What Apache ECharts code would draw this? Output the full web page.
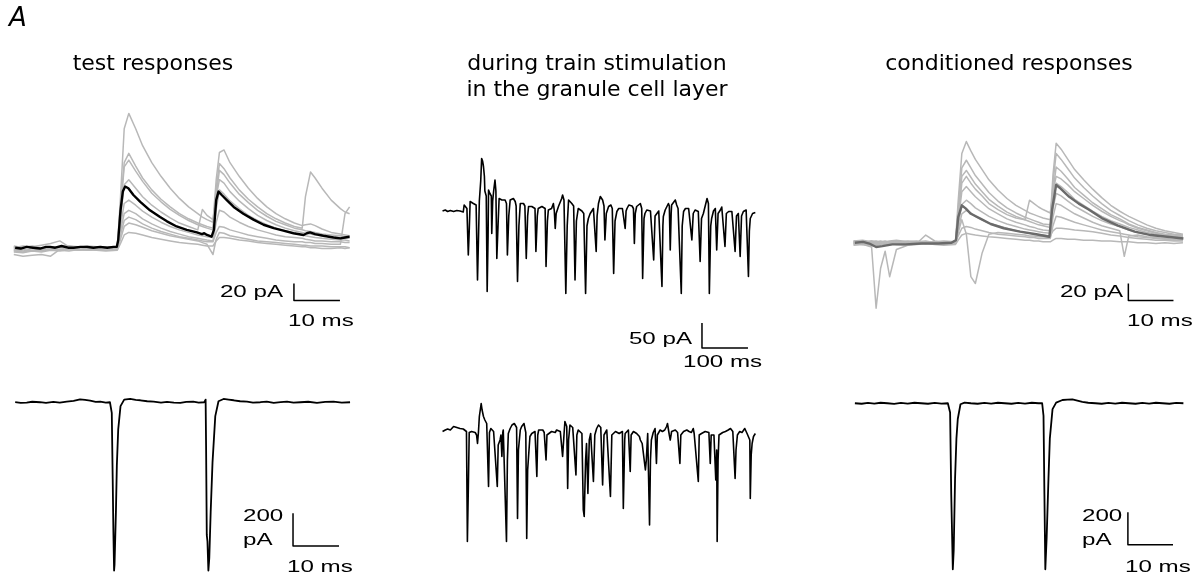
<!DOCTYPE html>
<html>
<head>
<meta charset="utf-8">
<script src="https://cdn.jsdelivr.net/npm/echarts@6/dist/echarts.min.js"></script>
<style>html,body{margin:0;padding:0;background:#fff}#c{width:1201px;height:582px}</style>
</head>
<body>
<div id="c"></div>
<script>
// ---------- DATA (ms, pA) ----------
const panelTitles = ["test responses", "during train stimulation", "in the granule cell layer", "conditioned responses"];
const scaleLabels = {topPA: "20 pA", topMS: "10 ms", trainPA: "50 pA", trainMS: "100 ms", stimPA1: "200", stimPA2: "pA", stimMS: "10 ms"};

// test responses: shared sample times (ms) for the grey single sweeps
const testTime = [3,5,7,9,11,13,15,17,19,21,23,25.5,26.2,27,28,29.5,31,33,35,37,39,41,43,44,45,46.3,47,47.7,48.7,50,52,54,56,58,60,62,64,65.7,66.4,67.5,68.5,70,72,74,75,76];
const testSweep1 = [-2,-4,-1,-3,0,-2,-1,-3,-1,-2,-1,-1,60,140,158,140,120,100,84,70,58,48,40,36,33,30,80,112,115,100,84,70,58,48,40,34,29,26,27,28,26,22,18,16,15,14];
const testSweep2 = [1,0,2,-1,1,0,2,1,0,1,0,0,50,100,111,96,82,68,57,48,40,34,29,27,25,23,70,99,93,82,68,57,48,40,34,29,25,23,60,89,82,70,56,46,42,40];
const testSweep3 = [-1,1,0,-2,0,1,-1,0,1,-1,0,0,45,95,103,90,78,64,54,45,38,32,27,25,23,21,62,91,86,76,63,53,44,37,31,27,23,21,20,19,18,16,15,14,13,13];
const testSweep4 = [0,2,1,0,-1,1,2,0,-1,1,0,1,35,74,80,70,60,50,42,35,29,25,21,45,38,33,60,80,76,66,55,46,38,32,27,23,20,18,17,16,15,14,13,12,11,11];
const testSweep5 = [-4,-5,-3,-4,-2,-3,-4,-2,-3,-2,-3,-2,25,52,56,50,43,36,30,25,21,18,15,14,13,12,45,68,63,55,46,38,32,27,23,20,17,15,14,13,12,11,10,9,9,8];
const testSweep6 = [-8,-10,-9,-8,-10,-2,0,1,-1,0,1,0,20,40,44,40,34,28,23,19,16,13,11,10,9,8,30,44,42,36,30,25,21,18,15,13,12,11,10,9,8,8,7,7,6,6];
const testSweep7 = [2,0,1,3,5,8,1,0,2,1,0,1,15,32,36,33,28,23,19,16,13,11,9,8,7,7,18,25,24,21,18,15,13,11,9,8,7,7,6,6,5,5,4,4,40,48];
const testSweep8 = [-3,-2,-4,-3,-2,-3,-1,-2,-3,-2,-3,-2,10,25,29,27,24,20,17,14,12,10,8,6,4,-8,10,18,17,14,12,10,8,7,6,5,4,3,3,2,2,2,1,1,1,0];
const testSweep9 = [-5,-6,-4,-5,-3,-4,-2,-3,-2,-3,-4,-3,5,15,18,17,15,12,10,8,6,5,4,3,2,2,8,12,12,11,9,8,6,5,4,3,2,1,1,0,0,-1,-1,0,-1,0];
const testMean = [[3.3,0],[4.5,-1],[5.8,1],[7.2,0],[8.7,-1],[10,1],[10.9,1],[12,0],[13.4,2],[14.8,0],[16,0],[17.5,1],[18.9,1],[20.3,0],[21.8,1],[23.3,0],[24.7,1],[25.4,1],[25.7,9],[26.2,44],[26.7,66],[27.2,72],[27.9,70],[29,62],[30.5,54],[32.6,44],[34.8,36],[36.3,31],[38.4,25],[40.6,21],[42.8,18],[43.9,16],[44.4,17],[45,15],[46,13],[46.5,21],[47,56],[47.5,66],[48.2,62],[49.3,56],[50.8,48],[52.9,40],[55.1,33],[57.3,27],[59.5,23],[61.6,20],[63.8,17],[66,15],[66.7,17],[67.4,18],[68.5,16],[70.3,14],[72.5,12],[74,11],[75,12],[76,13]];

// conditioned responses
const condTime = [3,5,7,8,9,10,11,12.5,15,17,19,21,23,25.6,26.2,27,28,29,30,31.5,33,35,37,39,41,42,43,44,45,46.6,47.2,47.9,49,50.5,52,54,56,58,60,62,63,64,66,68,70,72,74,76];
const condSweep1 = [1,-1,2,0,1,-1,0,2,1,0,-1,1,0,1,50,105,119,108,98,86,74,62,52,44,38,35,33,31,29,27,80,117,110,98,86,74,63,53,44,37,34,31,26,21,17,14,12,10];
const condSweep2 = [-1,0,-2,-1,0,1,-1,0,-1,1,0,-1,0,0,40,88,97,88,79,69,59,49,41,35,30,28,26,24,22,21,70,105,98,87,76,65,55,46,38,32,29,26,21,17,14,12,10,9];
const condSweep3 = [2,1,0,1,2,0,1,-1,0,1,2,0,1,0,35,78,85,77,69,60,51,43,36,31,27,25,23,21,20,18,60,89,84,75,65,56,47,40,33,28,25,22,18,15,12,10,9,8];
const condSweep4 = [0,1,-1,0,1,2,0,1,-1,0,1,0,-1,0,30,70,78,70,63,55,46,39,33,29,27,50,46,42,39,35,60,78,75,68,60,52,44,37,31,26,24,21,17,14,11,9,8,7];
const condSweep5 = [-2,-1,-3,-2,-1,-2,0,-1,-2,-1,0,-1,-2,-1,25,60,66,60,54,47,40,34,28,24,21,19,18,16,15,14,48,70,66,59,51,44,37,31,26,22,20,18,15,12,10,8,7,6];
const condSweep6 = [1,0,2,1,0,-1,1,0,2,1,0,1,0,1,20,45,50,46,41,36,31,26,22,19,16,15,14,13,12,11,40,58,55,49,43,37,31,26,22,19,17,15,12,10,8,7,6,5];
const condSweep7 = [0,-2,-5,-77,-30,-10,-40,-8,-3,-1,9,2,0,-1,15,34,38,35,31,27,23,20,17,14,12,11,10,9,9,8,14,17,17,16,15,14,13,11,9,8,7,6,5,4,3,3,2,2];
const condSweep8 = [-1,1,0,-1,1,0,-1,1,0,-1,0,1,0,-1,12,27,10,-40,-48,-12,10,12,11,10,9,8,8,7,7,6,30,46,44,39,34,29,24,20,17,14,-16,8,9,7,6,5,4,4];
const condSweep9 = [2,3,1,2,0,1,2,3,1,2,0,1,2,1,8,17,19,18,16,14,12,10,9,8,7,6,6,5,5,5,20,31,30,27,24,21,18,15,13,11,10,9,7,6,5,4,3,3];
const condSweep10 = [-3,-2,-4,-3,-2,-3,-1,-2,-3,-2,-1,-2,-3,-2,3,9,11,10,9,8,7,6,5,4,3,3,2,2,1,1,3,5,5,4,4,3,3,2,2,1,1,1,0,0,-1,0,-1,0];
const condMean = [[3.3,0],[5.1,1],[6.5,-1],[8,-5],[9.4,-4],[11.6,-2],[14.5,-2],[18.1,-1],[21.8,-1],[24.7,0],[25.7,3],[26.2,30],[27,44],[27.9,40],[29,34],[31.2,28],[33.4,22],[36.3,17],[39.9,13],[43.5,10],[46.4,7],[47,39],[47.9,68],[48.6,65],[50.8,54],[52.9,46],[55.1,39],[58,29],[61.6,20],[65.3,13],[68.9,9],[72.5,7],[76.1,5]];

// train stimulation traces (ms, pA)
const trainTop = [[49,0],[55,2],[60,-1],[66,1],[73,-1],[80,1],[87,0],[94,-2],[96,12],[100,14],[102,5],[105,-88],[107,-40],[109,19],[112,22],[116,15],[122,12],[125,-138],[127,-60],[129,20],[132,60],[134,105],[136,100],[138,89],[140,69],[141,40],[144,30],[146,-161],[148,-50],[149,42],[152,35],[155,30],[156,-45],[158,20],[160,39],[163,62],[165,40],[167,-95],[170,-20],[172,25],[174,29],[178,22],[182,25],[185,22],[188,15],[190,-88],[193,-10],[196,22],[200,25],[203,25],[207,19],[209,10],[212,-141],[215,-30],[218,15],[221,19],[225,15],[228,10],[231,-95],[234,-10],[236,9],[239,12],[243,9],[247,9],[250,5],[252,-81],[255,-10],[257,5],[261,9],[265,9],[269,5],[272,5],[274,-111],[277,-20],[279,2],[283,5],[286,5],[290,15],[292,0],[294,-35],[296,-5],[297,-5],[301,9],[305,9],[308,25],[310,32],[313,22],[315,19],[317,-165],[320,-30],[323,22],[327,19],[330,15],[334,10],[337,-138],[340,-20],[344,5],[348,2],[352,0],[356,-5],[360,-165],[363,-30],[366,-15],[370,-5],[373,-5],[377,5],[380,9],[383,-81],[385,-10],[388,15],[392,29],[395,25],[397,22],[400,10],[402,-58],[405,-5],[410,9],[413,12],[415,12],[418,5],[421,-125],[424,-20],[428,-1],[432,5],[435,5],[440,5],[442,5],[446,-35],[448,0],[450,5],[454,12],[457,15],[461,10],[464,5],[466,-65],[468,-5],[471,9],[475,12],[479,15],[482,5],[484,-135],[487,-15],[489,-5],[493,2],[497,2],[501,0],[504,-1],[508,-98],[511,-10],[515,-5],[519,0],[522,-1],[526,-151],[528,-30],[529,-11],[533,2],[537,5],[540,15],[542,10],[544,-78],[546,-5],[547,12],[551,15],[555,22],[558,12],[561,5],[565,2],[568,-165],[570,-30],[573,-1],[577,5],[580,9],[584,5],[587,2],[591,-58],[594,-5],[598,2],[602,-1],[605,-1],[609,-101],[612,-15],[616,-5],[620,10],[624,25],[627,15],[629,-165],[632,-30],[634,-15],[638,0],[642,5],[645,-78],[648,-5],[653,2],[656,8],[660,12],[663,-71],[666,-5],[671,-1],[675,2],[678,-1],[682,-5],[685,-81],[688,-10],[692,-5],[696,-91],[699,-10],[703,-1],[706,2],[709,2],[714,-131],[716,-40],[718,-15],[720,-18],[723,-5],[725,-5],[729,-3]];
const trainBottom = [[49,-3],[55,0],[60,2],[66,0],[73,7],[80,5],[87,3],[94,2],[101,-3],[103,-223],[105,-120],[107,-5],[112,-3],[116,0],[120,-5],[123,-10],[125,-27],[127,-5],[129,27],[131,40],[133,53],[135,40],[138,27],[141,20],[145,13],[147,10],[149,-113],[151,-5],[154,3],[158,0],[160,-3],[163,-5],[168,-113],[170,-30],[174,-20],[176,-10],[178,-53],[180,-5],[181,0],[185,-3],[188,-223],[190,-60],[192,-7],[196,3],[200,10],[205,13],[208,17],[210,5],[212,-177],[214,-40],[218,0],[221,7],[226,13],[230,-5],[232,-217],[234,-80],[236,-53],[239,-13],[243,-7],[247,-3],[250,-3],[254,-93],[256,-10],[258,0],[262,3],[267,0],[270,-5],[274,-60],[276,-10],[280,-7],[286,-3],[290,-1],[294,-5],[297,0],[301,-3],[305,-3],[310,-53],[313,-10],[315,17],[319,7],[321,-117],[323,-20],[326,10],[329,10],[332,5],[336,3],[339,-90],[341,-10],[344,0],[348,-3],[352,-7],[355,-160],[357,-173],[360,-60],[362,-27],[365,-127],[368,-20],[371,-7],[373,-7],[377,-103],[380,-10],[384,3],[388,10],[390,13],[393,5],[397,-110],[400,-10],[403,-7],[406,0],[410,-3],[414,-133],[417,-10],[420,-7],[425,-3],[428,-3],[433,-7],[435,-3],[440,-3],[442,-157],[445,-20],[446,-7],[450,-3],[453,0],[457,-83],[459,-10],[464,-3],[471,-7],[477,-13],[479,-20],[483,-27],[487,-30],[490,-80],[492,-60],[495,-7],[499,-190],[501,-60],[503,-20],[507,-5],[511,3],[514,-67],[516,-10],[519,-7],[522,0],[527,-3],[532,0],[536,7],[538,13],[540,17],[542,-10],[544,-20],[547,-3],[550,0],[555,0],[560,-5],[565,-67],[567,-10],[569,-7],[573,-3],[580,0],[585,-3],[590,-5],[594,3],[596,-7],[600,-5],[605,-103],[607,-10],[612,-7],[616,-3],[620,-3],[624,0],[628,-5],[631,-67],[633,-10],[636,-7],[639,-10],[643,-100],[645,-40],[646,-223],[648,-60],[650,-10],[653,-7],[658,-5],[664,-3],[670,0],[675,3],[680,-3],[685,-97],[687,-40],[690,-10],[692,-7],[695,-3],[700,-5],[706,3],[711,-7],[715,-10],[717,-20],[718,-137],[720,-50],[722,-27],[725,-13],[729,-7]];

// stimulus-evoked currents (bottom row)
const testStimTrace = [[3.3,0],[4.5,-4],[5.8,-2],[7,3],[8.7,0],[10,-4],[11.6,2],[13,-2],[14.5,4],[16,8],[17.4,18],[18.5,14],[19.6,10],[20.8,2],[21.8,4],[23,-2],[23.9,0],[24.3,-65],[24.5,-469],[24.65,-792],[24.8,-1030],[24.9,-994],[25.2,-671],[25.4,-388],[25.7,-166],[26.2,-24],[27,16],[28.3,20],[29.5,14],[30.5,12],[32,6],[33.4,4],[35,-2],[36.3,2],[37.8,-3],[39.2,-4],[40.5,2],[42,4],[43.2,-2],[44.4,0],[44.7,16],[44.8,-267],[44.95,-812],[45.1,-852],[45.3,-1030],[45.5,-953],[45.8,-671],[46.2,-368],[46.8,-85],[47.5,6],[48.6,20],[49.7,16],[50.8,12],[52.2,6],[53.7,4],[55,-2],[56.6,0],[58,4],[59.5,-4],[61,0],[62.4,4],[63.8,-2],[65.3,0],[67,3],[68.9,-4],[70.7,2],[72.5,4],[74.3,-2],[76.1,0]];
const condStimTrace = [[3.3,0],[4.8,-3],[6.2,2],[7.6,-2],[9,3],[10.5,0],[12,-4],[13.5,2],[15,-2],[16.5,3],[18,0],[19.5,-3],[21,2],[22.5,-2],[23.9,0],[24.4,-57],[24.65,-562],[25,-1022],[25.2,-905],[25.5,-461],[25.8,-218],[26.1,-97],[26.7,-6],[27.6,4],[29,0],[30.5,-3],[32,2],[33.5,-2],[35,3],[36.5,0],[38,-3],[39.5,2],[41,-2],[42.5,3],[44,0],[44.8,0],[45.1,-77],[45.3,-562],[45.5,-1022],[45.8,-824],[46.2,-461],[46.5,-218],[47.1,-36],[47.9,4],[49.3,20],[50.4,22],[51.5,24],[52.6,16],[53.7,8],[55,3],[56.6,0],[58,-3],[59.5,2],[61,-2],[62.5,3],[64,0],[65.5,-3],[67,2],[68.5,-2],[70,3],[71.5,0],[73,-3],[74.5,2],[76.1,0]];

// scale bars: [x0, y0, xLen, yLen]
const barTest = [63.9, -62, 10, 20];
const barCond = [63.9, -68, 10, 20];
const barTrain = [613, -274, 100, 50];
const barTestStim = [63.7, -880, 10, 200];
const barCondStim = [63.8, -870, 10, 200];

// ---------- CHART ----------
const GREY = '#b8b8b8';
const grids = [
  {left: 0,   top: 94.7,  width: 368, height: 221},   // 0 test responses
  {left: 420, top: 136,   width: 368, height: 225},   // 1 train top
  {left: 840, top: 89.7,  width: 368, height: 221},   // 2 conditioned
  {left: 0,   top: 353.2, width: 368, height: 231},   // 3 test stim
  {left: 420, top: 380,   width: 368, height: 175},   // 4 train bottom
  {left: 840, top: 354.5, width: 368, height: 231}    // 5 cond stim
];
const xr = [[0,80],[0,800],[0,80],[0,80],[0,800],[0,80]];
const yr = [[-80,180],[-300,150],[-80,180],[-1100,300],[-250,100],[-1100,300]];

const xAxis = grids.map((g,i)=>({type:'value', gridIndex:i, min:xr[i][0], max:xr[i][1], show:false}));
const yAxis = grids.map((g,i)=>({type:'value', gridIndex:i, min:yr[i][0], max:yr[i][1], show:false}));

function zip(t, v){ const n=Math.min(t.length,v.length); const o=[]; for(let i=0;i<n;i++) o.push([t[i],v[i]]); return o; }
function line(data, gi, color, w, z){
  return {type:'line', xAxisIndex:gi, yAxisIndex:gi, data, showSymbol:false, symbol:'none',
    lineStyle:{color, width:w, join:'round'}, z:z||2, silent:true, animation:false, clip:false};
}
function bar(b, gi){
  const [x0,y0,dx,dy]=b;
  return line([[x0,y0+dy],[x0,y0],[x0+dx,y0]], gi, '#000', 1.5, 5);
}

const series = [];
[testSweep1,testSweep2,testSweep3,testSweep4,testSweep5,testSweep6,testSweep7,testSweep8,testSweep9]
  .forEach(s=>series.push(line(zip(testTime,s),0,GREY,1.5,2)));
series.push(line(testMean,0,'#000',2.4,4));
[condSweep1,condSweep2,condSweep3,condSweep4,condSweep5,condSweep6,condSweep7,condSweep8,condSweep9,condSweep10]
  .forEach(s=>series.push(line(zip(condTime,s),2,GREY,1.5,2)));
series.push(line(condMean,2,'#6a6a6a',2.4,4));
series.push(line(trainTop,1,'#000',1.6,3));
series.push(line(trainBottom,4,'#000',1.6,3));
series.push(line(testStimTrace,3,'#000',1.8,3));
series.push(line(condStimTrace,5,'#000',1.8,3));
series.push(bar(barTest,0), bar(barCond,2), bar(barTrain,1), bar(barTestStim,3), bar(barCondStim,5));

const TF = '"DejaVu Sans", Verdana, sans-serif';
const SF = '"Liberation Sans", Arial, Helvetica, sans-serif';
function txt(text, x, y, align, font, sx){
  return {type:'text', x, y, scaleX: sx||1, silent:true, z:10,
    style:{text, x:0, y:0, font, fill:'#000', align, textAlign:align, verticalAlign:'middle', textVerticalAlign:'middle'}};
}
const sFont = '17px ' + SF, SX = 1.42;
const graphic = [
  txt('A', 9, 19.5, 'left', 'italic 26px ' + TF),
  txt(panelTitles[0], 153, 64.5, 'center', '22px ' + TF),
  txt(panelTitles[1], 597, 64.5, 'center', '22px ' + TF),
  txt(panelTitles[2], 597, 90.5, 'center', '22px ' + TF),
  txt(panelTitles[3], 1009, 64.5, 'center', '22px ' + TF),
  txt(scaleLabels.topPA, 283, 292.5, 'right', sFont, SX),
  txt(scaleLabels.topMS, 288, 321, 'left', sFont, SX),
  txt(scaleLabels.topPA, 1123, 292.5, 'right', sFont, SX),
  txt(scaleLabels.topMS, 1127, 321, 'left', sFont, SX),
  txt(scaleLabels.trainPA, 692, 339.5, 'right', sFont, SX),
  txt(scaleLabels.trainMS, 683, 362.5, 'left', sFont, SX),
  txt(scaleLabels.stimPA1, 243, 516, 'left', sFont, SX),
  txt(scaleLabels.stimPA2, 243, 540, 'left', sFont, SX),
  txt(scaleLabels.stimMS, 287, 567.5, 'left', sFont, SX),
  txt(scaleLabels.stimPA1, 1082, 516, 'left', sFont, SX),
  txt(scaleLabels.stimPA2, 1082, 540, 'left', sFont, SX),
  txt(scaleLabels.stimMS, 1125, 567.5, 'left', sFont, SX)
];

const chart = echarts.init(document.getElementById('c'), null, {renderer:'canvas'});
chart.setOption({animation:false, backgroundColor:'#fff', grid:grids, xAxis, yAxis, series, graphic});
</script>
</body>
</html>
